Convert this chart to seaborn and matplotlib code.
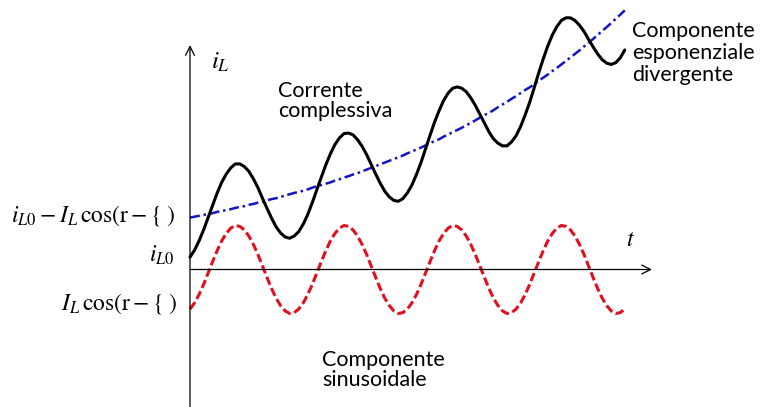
import numpy as np
import pandas as pd
import matplotlib
matplotlib.use("Agg")
import matplotlib.pyplot as plt
import seaborn as sns

# time in periods of the sinusoid (24 samples per period)
t = [k / 24 for k in range(97)]

# sinusoidal component (units of its amplitude)
sinusoidale = [-0.90, -0.76, -0.57, -0.34, -0.08, 0.18, 0.43, 0.65, 0.82, 0.94, 1.00, 0.98,
               0.90, 0.76, 0.57, 0.34, 0.08, -0.18, -0.43, -0.65, -0.82, -0.94, -1.00, -0.98,
               -0.90, -0.76, -0.57, -0.34, -0.08, 0.18, 0.43, 0.65, 0.82, 0.94, 1.00, 0.98,
               0.90, 0.76, 0.57, 0.34, 0.08, -0.18, -0.43, -0.65, -0.82, -0.94, -1.00, -0.98,
               -0.90, -0.76, -0.57, -0.34, -0.08, 0.18, 0.43, 0.65, 0.82, 0.94, 1.00, 0.98,
               0.90, 0.76, 0.57, 0.34, 0.08, -0.18, -0.43, -0.65, -0.82, -0.94, -1.00, -0.98,
               -0.90, -0.76, -0.57, -0.34, -0.08, 0.18, 0.43, 0.65, 0.82, 0.94, 1.00, 0.98,
               0.90, 0.76, 0.57, 0.34, 0.08, -0.18, -0.43, -0.65, -0.82, -0.94, -1.00, -0.98,
               -0.90]

# divergent exponential component
esponenziale = [1.18, 1.20, 1.22, 1.24, 1.26, 1.28, 1.31, 1.33, 1.35, 1.37, 1.40, 1.42,
                1.44, 1.47, 1.49, 1.52, 1.54, 1.57, 1.60, 1.62, 1.65, 1.68, 1.71, 1.74,
                1.76, 1.79, 1.82, 1.86, 1.89, 1.92, 1.95, 1.98, 2.02, 2.05, 2.09, 2.12,
                2.16, 2.19, 2.23, 2.27, 2.31, 2.35, 2.39, 2.43, 2.47, 2.51, 2.55, 2.59,
                2.64, 2.68, 2.73, 2.77, 2.82, 2.87, 2.92, 2.96, 3.02, 3.07, 3.12, 3.17,
                3.22, 3.28, 3.33, 3.39, 3.45, 3.51, 3.56, 3.62, 3.69, 3.75, 3.81, 3.88,
                3.94, 4.01, 4.08, 4.14, 4.21, 4.29, 4.36, 4.43, 4.51, 4.58, 4.66, 4.74,
                4.82, 4.90, 4.98, 5.07, 5.15, 5.24, 5.33, 5.42, 5.51, 5.60, 5.70, 5.79,
                5.89]

# total current
complessiva = [0.28, 0.44, 0.65, 0.90, 1.18, 1.46, 1.74, 1.98, 2.17, 2.31, 2.40, 2.40,
               2.34, 2.23, 2.06, 1.86, 1.62, 1.39, 1.17, 0.97, 0.83, 0.74, 0.71, 0.76,
               0.86, 1.03, 1.25, 1.52, 1.81, 2.10, 2.38, 2.63, 2.84, 2.99, 3.09, 3.10,
               3.06, 2.95, 2.80, 2.61, 2.39, 2.17, 1.96, 1.78, 1.65, 1.57, 1.55, 1.61,
               1.74, 1.92, 2.16, 2.43, 2.74, 3.05, 3.35, 3.61, 3.84, 4.01, 4.12, 4.15,
               4.12, 4.04, 3.90, 3.73, 3.53, 3.33, 3.13, 2.97, 2.87, 2.81, 2.81, 2.90,
               3.04, 3.25, 3.51, 3.80, 4.13, 4.47, 4.79, 5.08, 5.33, 5.52, 5.66, 5.72,
               5.72, 5.66, 5.55, 5.41, 5.23, 5.06, 4.90, 4.77, 4.69, 4.66, 4.70, 4.81,
               4.99]

df = pd.DataFrame({"t": t, "sin": sinusoidale, "exp": esponenziale, "tot": complessiva})

sns.set_style("white")
plt.rcParams["mathtext.fontset"] = "stix"
plt.rcParams["font.family"] = ["Lato", "DejaVu Sans"]
plt.rcParams["text.color"] = "black"

fig = plt.figure(figsize=(7.6, 4.07), dpi=100)
ax = fig.add_axes([0, 0, 1, 1])
ax.set_xlim(-1.748, 5.244)
ax.set_ylim(-3.125, 6.125)
ax.axis("off")

sns.lineplot(data=df, x="t", y="exp", ax=ax, color="#1414c8", lw=1.8,
             linestyle=(0, (4, 1.5, 1, 1.5)))
sns.lineplot(data=df, x="t", y="sin", ax=ax, color="#e0101e", lw=2.2,
             linestyle=(0, (2.8, 1.2)))
sns.lineplot(data=df, x="t", y="tot", ax=ax, color="black", lw=2.2)

# axes with open arrows
arrow = dict(arrowstyle="->", color="black", lw=0.9, mutation_scale=16, shrinkA=0, shrinkB=0)
ax.annotate("", xy=(0, 5.10), xytext=(0, -3.2), arrowprops=arrow)
ax.annotate("", xy=(4.25, 0), xytext=(0, 0), arrowprops=arrow)

tr = ax.transAxes
W, H = 760, 407
def px(x, y):
    return x / W, 1 - y / H

ms = 17
ax.text(*px(211, 62), r"$i_L$", fontsize=18, transform=tr, va="center", ha="left")
ax.text(*px(626, 240), r"$t$", fontsize=ms, transform=tr, va="center", ha="left")
ax.text(*px(175, 215), r"$i_{L0} - I_L\,\mathrm{cos}(\mathrm{r} - \{\;)$", fontsize=ms,
        transform=tr, va="center", ha="right")
ax.text(*px(175, 255), r"$i_{L0}$", fontsize=ms, transform=tr, va="center", ha="right")
ax.text(*px(177, 303), r"$I_L\,\mathrm{cos}(\mathrm{r} - \{\;)$", fontsize=ms,
        transform=tr, va="center", ha="right")

fs = 15.5
ax.text(*px(278, 101), "Corrente\ncomplessiva", fontsize=fs, transform=tr,
        va="center", ha="left", linespacing=1.05)
ax.text(*px(632, 53), "Componente\nesponenziale\ndivergente", fontsize=fs, transform=tr,
        va="center", ha="left", linespacing=1.1)
ax.text(*px(322, 370), "Componente\nsinusoidale", fontsize=fs, transform=tr,
        va="center", ha="left", linespacing=1.05)

fig.savefig("out.png", dpi=100)
